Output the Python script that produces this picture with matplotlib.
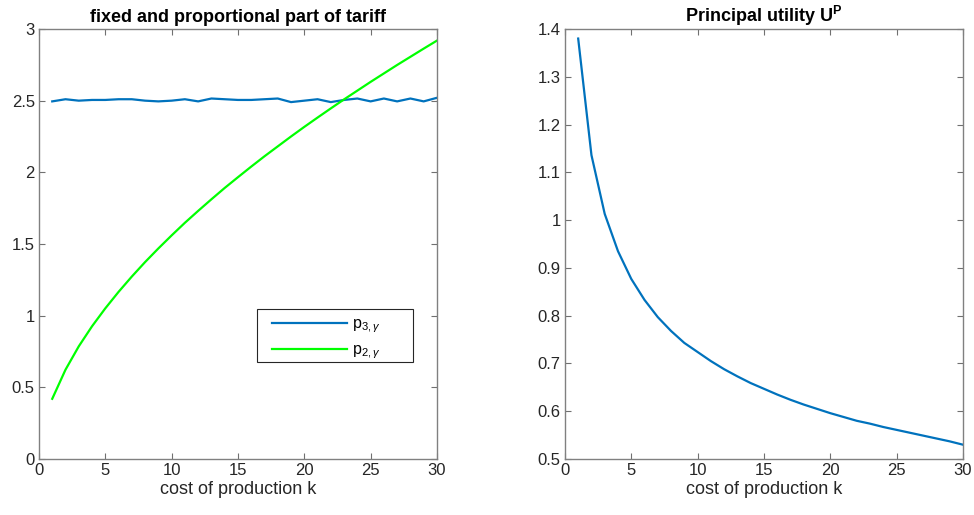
import matplotlib
matplotlib.use("Agg")
import matplotlib.pyplot as plt
from matplotlib.patches import Rectangle

k = list(range(1, 31))
p3 = [2.495, 2.51, 2.50, 2.505, 2.505, 2.51, 2.51, 2.50, 2.495, 2.50,
      2.51, 2.495, 2.515, 2.51, 2.505, 2.505, 2.51, 2.515, 2.49, 2.50,
      2.51, 2.49, 2.505, 2.515, 2.495, 2.515, 2.495, 2.515, 2.495, 2.52]
p2 = [0.420, 0.623, 0.786, 0.926, 1.051, 1.166, 1.273, 1.374, 1.469, 1.560,
      1.648, 1.731, 1.812, 1.891, 1.966, 2.040, 2.112, 2.181, 2.250, 2.317,
      2.382, 2.446, 2.509, 2.570, 2.631, 2.690, 2.749, 2.806, 2.863, 2.919]
up = [1.38, 1.136, 1.013, 0.935, 0.877, 0.833, 0.797, 0.768, 0.743, 0.724,
      0.705, 0.688, 0.673, 0.659, 0.647, 0.635, 0.624, 0.614, 0.605, 0.596,
      0.588, 0.580, 0.574, 0.567, 0.561, 0.555, 0.549, 0.543, 0.537, 0.530]

plt.rcParams['font.family'] = ['Liberation Sans', 'DejaVu Sans']
plt.rcParams['mathtext.fontset'] = 'custom'
plt.rcParams['mathtext.rm'] = 'Liberation Sans'
plt.rcParams['mathtext.it'] = 'Liberation Sans:italic'
plt.rcParams['mathtext.bf'] = 'Liberation Sans:bold'

fig = plt.figure(figsize=(9.74, 5.15), dpi=100)
ax1 = fig.add_axes([0.0400, 0.1087, 0.4086, 0.835])
ax2 = fig.add_axes([0.5800, 0.1087, 0.4086, 0.835])

blue = '#0072BD'
ax1.plot(k, p3, color=blue, lw=1.6, label=r'p$_{3,\gamma}$')
ax1.plot(k, p2, color='#00FF00', lw=1.6, label=r'p$_{2,\gamma}$')
ax1.set_xlim(0, 30)
ax1.set_ylim(0, 3)
ax1.set_yticks([0, 0.5, 1, 1.5, 2, 2.5, 3])
ax1.set_yticklabels(['0', '0.5', '1', '1.5', '2', '2.5', '3'])
ax1.set_title('fixed and proportional part of tariff', fontsize=13, fontweight='bold', pad=5)
ax1.set_xlabel('cost of production k', fontsize=13, color='#262626', labelpad=2)

# legend frame (MATLAB-style box with generous padding)
ax1.add_patch(Rectangle((0.548, 0.226), 0.392, 0.123, transform=ax1.transAxes,
                        facecolor='white', edgecolor='#262626', lw=0.8, zorder=4))
leg = ax1.legend(loc='center left', bbox_to_anchor=(0.585, 0.280), fontsize=11.5,
                 frameon=False, handlelength=4.7, handletextpad=0.35,
                 borderpad=0, labelspacing=0.45, borderaxespad=0)
leg.set_zorder(5)

ax2.plot(k, up, color=blue, lw=1.6)
ax2.set_xlim(0, 30)
ax2.set_ylim(0.5, 1.4)
ax2.set_yticks([0.5, 0.6, 0.7, 0.8, 0.9, 1.0, 1.1, 1.2, 1.3, 1.4])
ax2.set_yticklabels(['0.5', '0.6', '0.7', '0.8', '0.9', '1', '1.1', '1.2', '1.3', '1.4'])
ax2.set_title(r'Principal utility U$^{\mathbf{P}}$', fontsize=13, fontweight='bold', pad=5)
ax2.set_xlabel('cost of production k', fontsize=13, color='#262626', labelpad=2)

for ax in (ax1, ax2):
    ax.set_xticks([0, 5, 10, 15, 20, 25, 30])
    ax.tick_params(direction='in', top=True, right=True, labelsize=12,
                   labelcolor='#262626', color='#707070', length=4, width=0.8, pad=3)
    for s in ax.spines.values():
        s.set_color('#808080')
        s.set_linewidth(1.0)

fig.savefig('out.png', dpi=100)
